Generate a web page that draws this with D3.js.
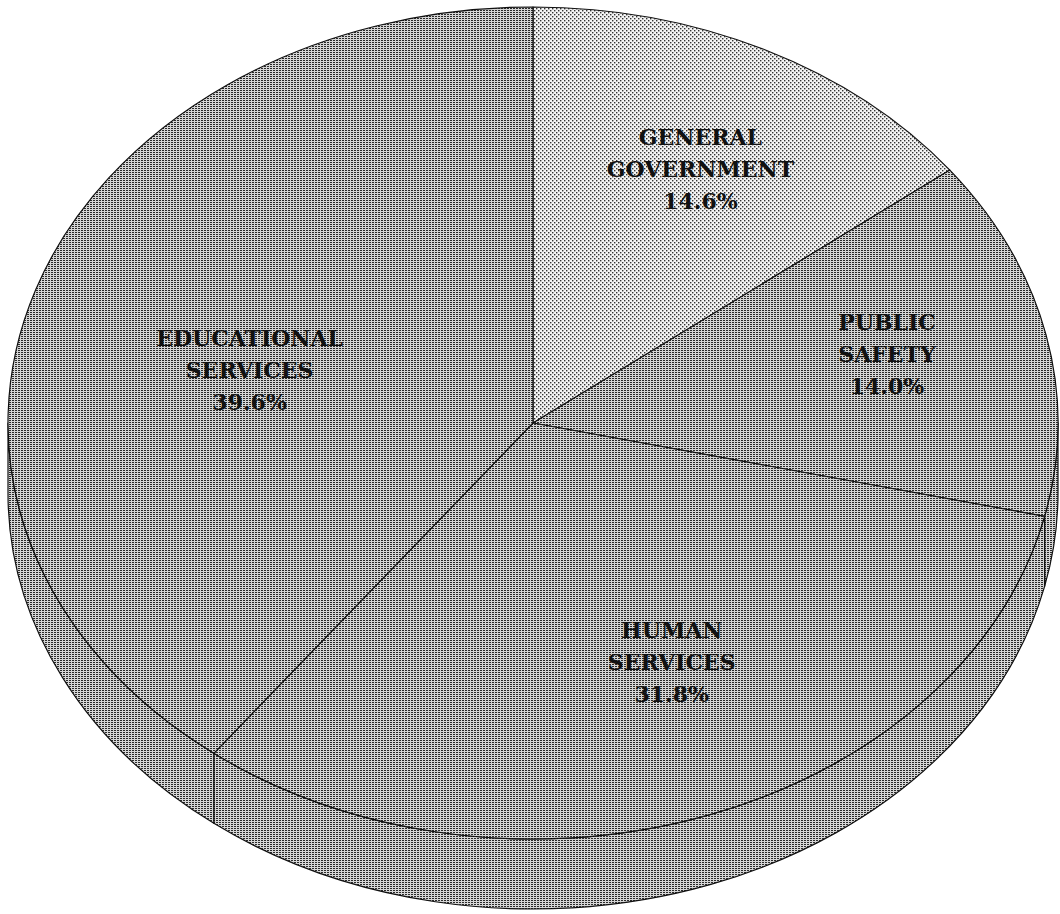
<!DOCTYPE html>
<html>
<head>
<meta charset="utf-8">
<script src="https://cdn.jsdelivr.net/npm/d3@7"></script>
<style>
  body { margin: 0; background: #fff; }
  svg { display: block; }
</style>
</head>
<body>
<svg id="pie_svg" width="1060" height="914"></svg>
<script>
// data
var categories = ["GENERAL GOVERNMENT", "PUBLIC SAFETY", "HUMAN SERVICES", "EDUCATIONAL SERVICES"];
var labelLines = [["GENERAL", "GOVERNMENT"], ["PUBLIC", "SAFETY"], ["HUMAN", "SERVICES"], ["EDUCATIONAL", "SERVICES"]];
var values = [14.6, 14.0, 31.8, 39.6];
var fills = ["light", "dense", "dense", "dense"];

// layout
var cx = 533, cy = 423, rx = 525, ry = 416, depth = 70;
var labelPos = [[0.72, 0.68], [0.69, 0.78], [0.78, 0.61], [0.57, 0.40]]; // fraction of radius along x / y
var lineGap = 32;

var svg = d3.select("#pie_svg");
var defs = svg.append("defs");

// halftone-ish patterns
var pLight = defs.append("pattern").attr("id", "light")
    .attr("patternUnits", "userSpaceOnUse").attr("width", 4).attr("height", 4);
pLight.append("rect").attr("width", 4).attr("height", 4).attr("fill", "#f4f4f4");
pLight.append("rect").attr("x", 0).attr("y", 0).attr("width", 1.4).attr("height", 1.4).attr("fill", "#333");
pLight.append("rect").attr("x", 2).attr("y", 2).attr("width", 1.4).attr("height", 1.4).attr("fill", "#333");

var pDense = defs.append("pattern").attr("id", "dense")
    .attr("patternUnits", "userSpaceOnUse").attr("width", 3).attr("height", 2);
pDense.append("rect").attr("width", 3).attr("height", 2).attr("fill", "#d6d6d6");
pDense.append("rect").attr("x", 0).attr("y", 0).attr("width", 2).attr("height", 1).attr("fill", "#2a2a2a");

var pie = d3.pie().sort(null).value(function(d) { return d; });
var arcs = pie(values);

function pt(a, dy) {
    return [cx + rx * Math.sin(a), cy - ry * Math.cos(a) + (dy || 0)];
}

function topPath(d) {
    var s = pt(d.startAngle), e = pt(d.endAngle);
    var large = (d.endAngle - d.startAngle) > Math.PI ? 1 : 0;
    return "M" + cx + "," + cy + "L" + s + "A" + rx + "," + ry + " 0 " + large + " 1 " + e + "Z";
}

function sidePath(d) {
    var a0 = Math.max(d.startAngle, Math.PI / 2);
    var a1 = Math.min(d.endAngle, Math.PI * 1.5);
    if (a1 <= a0) return null;
    var s = pt(a0), e = pt(a1), eb = pt(a1, depth), sb = pt(a0, depth);
    var large = (a1 - a0) > Math.PI ? 1 : 0;
    return "M" + s + "A" + rx + "," + ry + " 0 " + large + " 1 " + e +
        "L" + eb + "A" + rx + "," + ry + " 0 " + large + " 0 " + sb + "Z";
}

var g = svg.append("g");

// side walls first
g.selectAll("path.side")
    .data(arcs.filter(function(d) { return sidePath(d) != null; }))
    .enter()
    .append("path")
    .attr("class", "side")
    .attr("d", sidePath)
    .attr("fill", function(d) { return "url(#" + fills[d.index] + ")"; })
    .attr("stroke", "#111")
    .attr("stroke-width", 1.2)
    .attr("stroke-linejoin", "round");

// top faces
g.selectAll("path.top")
    .data(arcs)
    .enter()
    .append("path")
    .attr("class", "top")
    .attr("d", topPath)
    .attr("fill", function(d) { return "url(#" + fills[d.index] + ")"; })
    .attr("stroke", "#111")
    .attr("stroke-width", 1.2)
    .attr("stroke-linejoin", "round");

// labels
var fmt = d3.format(".1f");
var labels = g.selectAll("text.lbl")
    .data(arcs)
    .enter()
    .append("text")
    .attr("class", "lbl")
    .attr("text-anchor", "middle")
    .attr("font-family", "'DejaVu Serif', 'Liberation Serif', serif")
    .attr("font-size", 22)
    .attr("font-weight", "bold")
    .attr("fill", "#111")
    .each(function(d) {
        var mid = (d.startAngle + d.endAngle) / 2;
        var k = labelPos[d.index];
        var x = cx + rx * k[0] * Math.sin(mid);
        var y = cy - ry * k[1] * Math.cos(mid);
        var lines = labelLines[d.index].concat([fmt(d.data) + "%"]);
        var t = d3.select(this);
        lines.forEach(function(l, i) {
            t.append("tspan")
                .attr("x", x)
                .attr("y", y + 8 + (i - 1) * lineGap)
                .text(l);
        });
    });
</script>
</body>
</html>
